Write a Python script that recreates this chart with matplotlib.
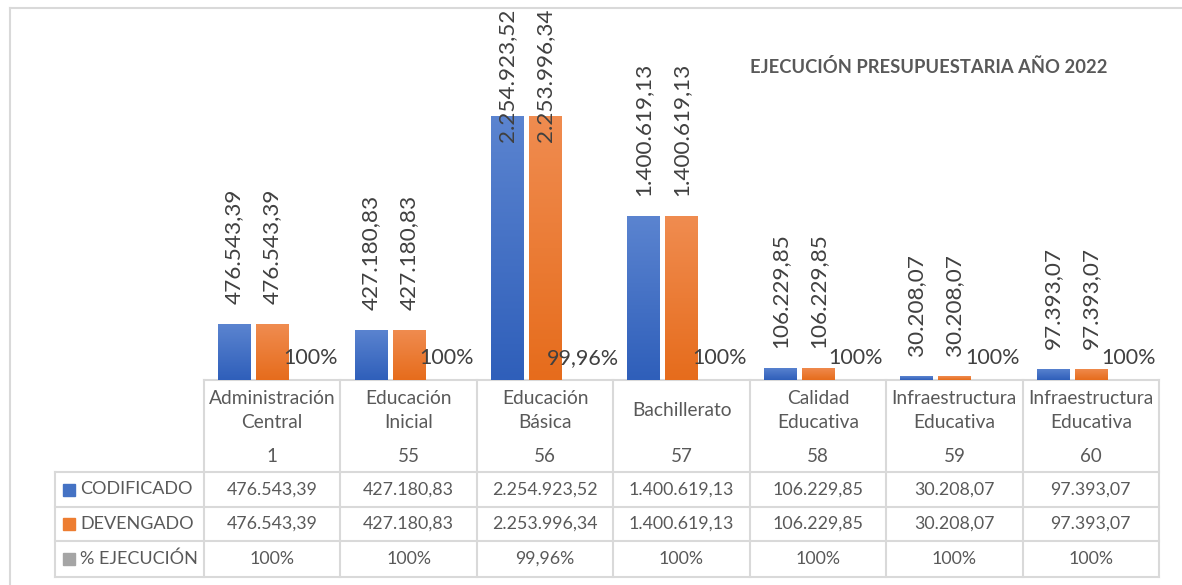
import numpy as np
import matplotlib
matplotlib.use("Agg")
import matplotlib.pyplot as plt
import matplotlib.transforms as mtransforms
from matplotlib.colors import LinearSegmentedColormap

plt.rcParams['font.family'] = ['Lato', 'DejaVu Sans']

# data
categorias = ["Administración\nCentral", "Educación\nInicial", "Educación\nBásica", "Bachillerato",
              "Calidad\nEducativa", "Infraestructura\nEducativa", "Infraestructura\nEducativa"]
codigos = ["1", "55", "56", "57", "58", "59", "60"]
codificado = [476543.39, 427180.83, 2254923.52, 1400619.13, 106229.85, 30208.07, 97393.07]
devengado = [476543.39, 427180.83, 2253996.34, 1400619.13, 106229.85, 30208.07, 97393.07]
ejecucion = [100, 100, 99.96, 100, 100, 100, 100]
series = ["CODIFICADO", "DEVENGADO", "% EJECUCIÓN"]
titulo = "EJECUCIÓN PRESUPUESTARIA AÑO 2022"

BLUE, ORANGE, GREY = "#4472C4", "#ED7D31", "#A5A5A5"
LINE = "#D9D9D9"
TXT = "#595959"


def fmt_num(v):
    s = f"{v:,.2f}"
    return s.replace(",", "X").replace(".", ",").replace("X", ".")


def fmt_pct(v):
    return (f"{v:.2f}".rstrip("0").rstrip(".") + "%").replace(".", ",")


W, H = 1182, 585
fig = plt.figure(figsize=(W / 100, H / 100), dpi=100)

# background canvas in pixel units (frame + table)
canvas = fig.add_axes([0, 0, 1, 1])
canvas.set_xlim(0, W)
canvas.set_ylim(H, 0)
canvas.axis("off")

x0, x1, base, top = 204, 1159, 380, 20
ax = fig.add_axes([x0 / W, 1 - base / H, (x1 - x0) / W, (base - top) / H])
n = len(codificado)
x = np.arange(n)
ax.set_xlim(-0.5, n - 0.5)
ax.set_ylim(0, 3.075e6)
ax.axis("off")

off, bw = 0.279, 0.235
b1 = ax.bar(x - off, codificado, bw, color=BLUE)
b2 = ax.bar(x, devengado, bw, color=ORANGE)
b3 = ax.bar(x + off, np.array(ejecucion) / 100, bw, color=GREY)

# excel-like vertical gradient on the bars
grad = np.linspace(0, 1, 256).reshape(-1, 1)
for bars, c_top, c_bot in ((b1, "#5B84D0", "#2F5FBA"), (b2, "#F08C50", "#E66C1C")):
    cmap = LinearSegmentedColormap.from_list("g", [c_bot, c_top])
    for r in bars:
        im = ax.imshow(grad, extent=[r.get_x(), r.get_x() + r.get_width(), 0, r.get_height()],
                       origin="lower", aspect="auto", cmap=cmap, zorder=r.get_zorder() + 0.1)
        im.set_clip_path(r)
ax.set_xlim(-0.5, n - 0.5)
ax.set_ylim(0, 3.075e6)

labels = []
for bars, vals in ((b1, codificado), (b2, devengado)):
    for r, v in zip(bars, vals):
        a = ax.annotate(fmt_num(v), (r.get_x() + r.get_width() / 2, v), xytext=(0, 20),
                        textcoords="offset pixels", rotation=90, ha="center", va="bottom",
                        fontsize=16.2, color="#404040", annotation_clip=False, zorder=5)
        labels.append(a)
for r, v in zip(b3, ejecucion):
    ax.annotate(fmt_pct(v), (r.get_x() + r.get_width() / 2, v / 100), xytext=(0, 12),
                textcoords="offset pixels", ha="center", va="bottom",
                fontsize=15.5, color="#404040", zorder=5)

# keep labels inside the chart (Excel moves them into the bar)
fig.canvas.draw()
rend = fig.canvas.get_renderer()
for a in labels:
    bb = a.get_window_extent(rend)
    over = bb.y1 - (H - 9)
    if over > 0:
        a.xyann = (0, 20 - over)

# outer frame
canvas.plot([10, 10], [8, H], color=LINE, lw=1.5)
canvas.plot([10, W], [8, 8], color=LINE, lw=1.5)

# data table
tr = mtransforms.blended_transform_factory(ax.transData, canvas.transData)
rows_y = [472, 507, 541, 577]
for i in range(n + 1):
    canvas.plot([i - 0.5, i - 0.5], [base, rows_y[-1]], color=LINE, lw=1.5, transform=tr)
canvas.plot([-0.5, n - 0.5], [base, base], color=LINE, lw=1.5, transform=tr)
for yy in rows_y:
    canvas.plot([55, x1], [yy, yy], color=LINE, lw=1.5)
canvas.plot([55, 55], [rows_y[0], rows_y[-1]], color=LINE, lw=1.5)

for i in range(n):
    canvas.text(i, 410, categorias[i], transform=tr, ha="center", va="center",
                fontsize=13.8, color=TXT, linespacing=1.5)
    canvas.text(i, 457, codigos[i], transform=tr, ha="center", va="center",
                fontsize=13.5, color=TXT)

row_vals = [[fmt_num(v) for v in codificado], [fmt_num(v) for v in devengado],
            [fmt_pct(v) for v in ejecucion]]
for k, (name, col, vals) in enumerate(zip(series, (BLUE, ORANGE, GREY), row_vals)):
    yc = (rows_y[k] + rows_y[k + 1]) / 2
    canvas.add_patch(plt.Rectangle((63, yc - 6), 12, 12, color=col))
    canvas.text(80, yc, name, ha="left", va="center", fontsize=13, color=TXT)
    for i, s in enumerate(vals):
        canvas.text(i, yc, s, transform=tr, ha="center", va="center", fontsize=12.8, color=TXT)

canvas.text(750, 67, titulo, ha="left", va="center", fontsize=13.2,
            fontweight="bold", color=TXT)

fig.savefig("out.png", dpi=100)
